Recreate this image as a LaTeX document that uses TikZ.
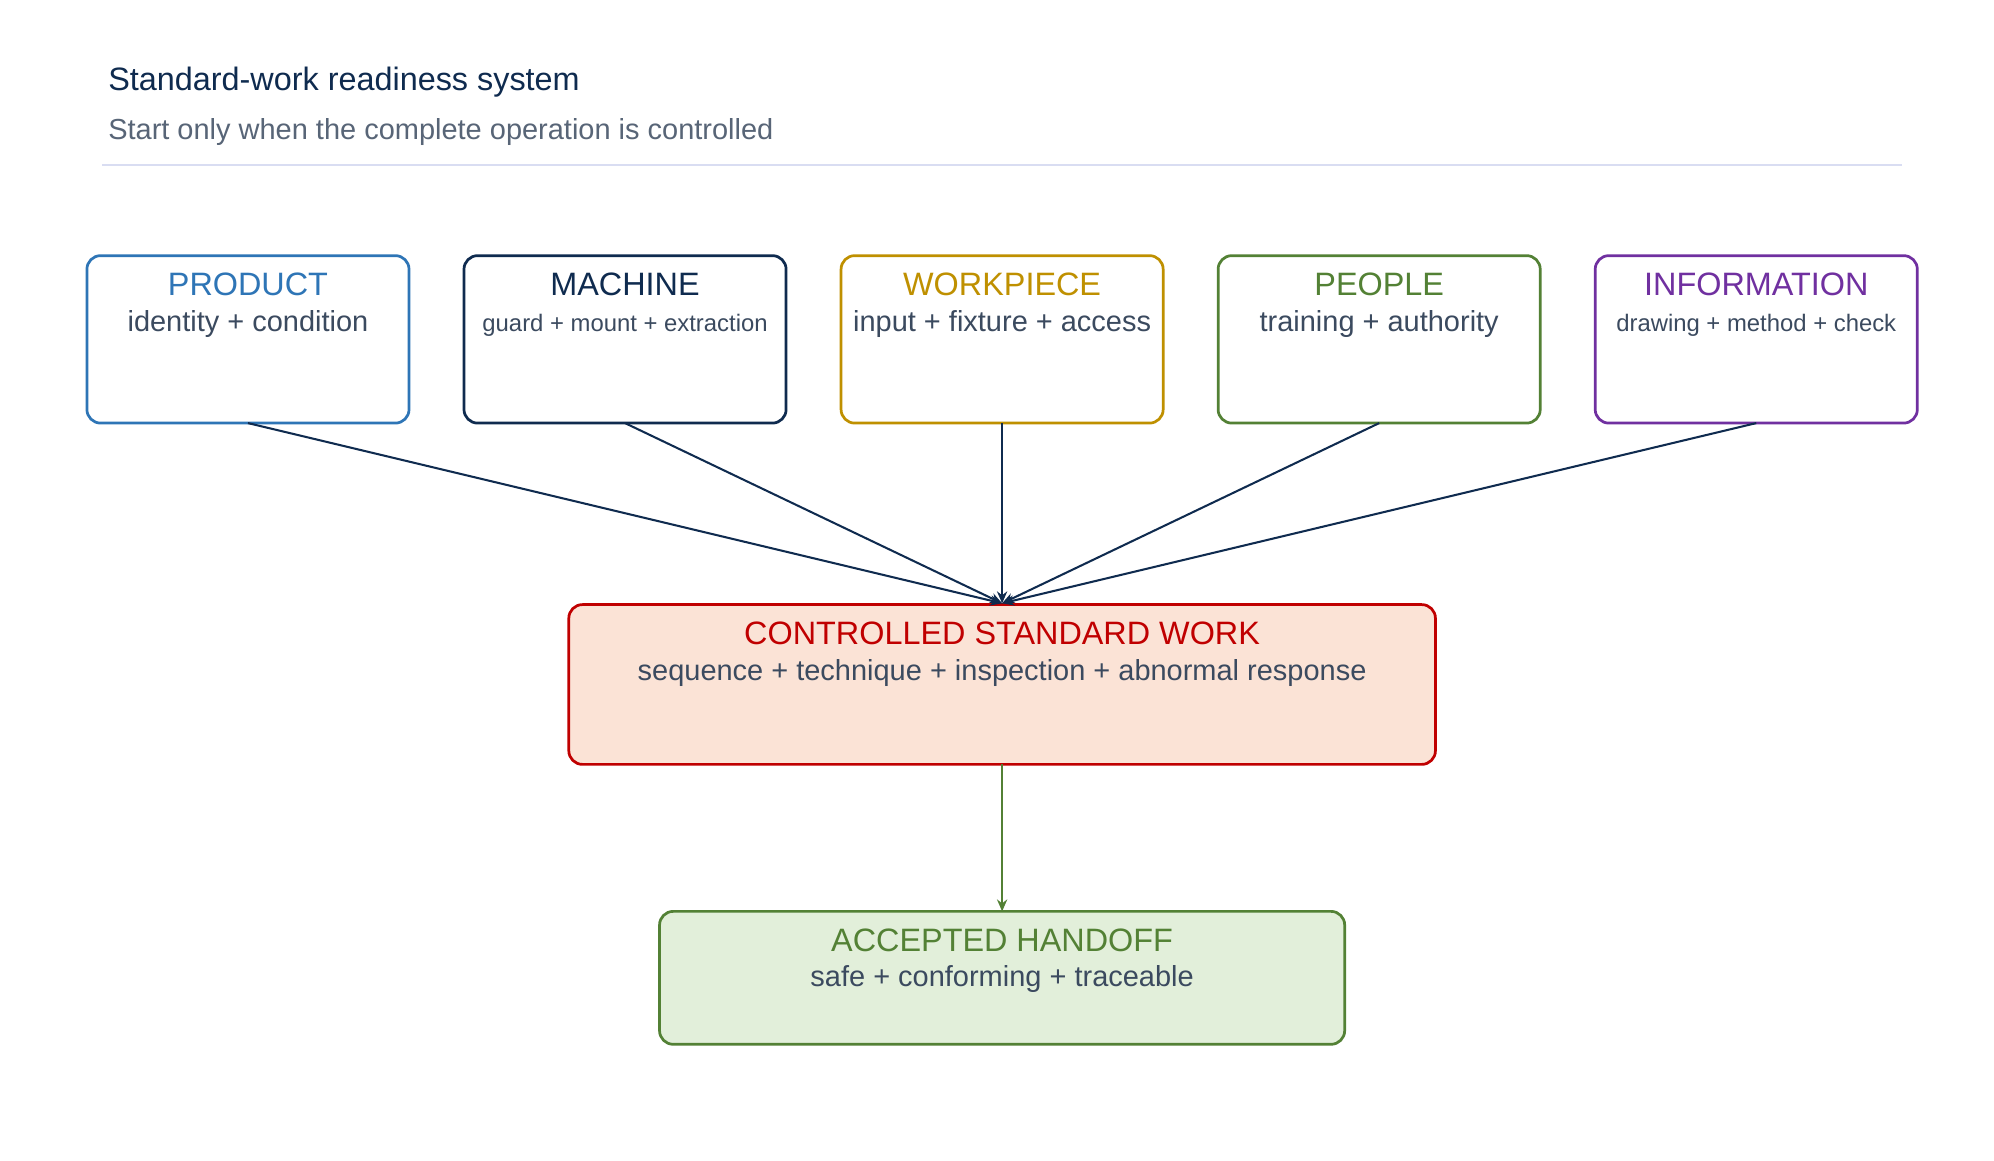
\documentclass[tikz,border=0pt]{standalone}
\usepackage{fontspec}
\setmainfont{Liberation Sans}
\usetikzlibrary{arrows.meta}
\definecolor{cprod}{HTML}{2E75B6}
\definecolor{cmach}{HTML}{0F2B4F}
\definecolor{cwork}{HTML}{BF9000}
\definecolor{cpeop}{HTML}{538135}
\definecolor{cinfo}{HTML}{7030A0}
\definecolor{cred}{HTML}{C00000}
\definecolor{ctxt}{HTML}{3B4A5F}
\definecolor{cfillr}{HTML}{FBE3D6}
\definecolor{cfillg}{HTML}{E2EFDA}
\definecolor{crule}{HTML}{D9DDF2}
\begin{document}
\begin{tikzpicture}[x=0.75pt,y=-0.75pt,
  box/.style={draw,line width=1.6pt,rounded corners=8pt,fill=white},
  ttl/.style={font=\fontsize{19}{22}\selectfont},
  sub/.style={font=\fontsize{17}{20}\selectfont,text=ctxt},
  subs/.style={font=\fontsize{14}{17}\selectfont,text=ctxt},
  conn/.style={draw=cmach,line width=1.2pt,-{Stealth[length=7pt,width=6pt]}}]
\useasboundingbox[fill=white] (0,0) rectangle (1560,908);
\node[anchor=base west,font=\fontsize{19}{22}\selectfont,text=cmach] (title) at (80,71) {Standard-work readiness system};
\node[anchor=base west,font=\fontsize{17}{20}\selectfont,text=ctxt!85] (subtitle) at (80,109) {Start only when the complete operation is controlled};
\draw[crule,line width=1.2pt] (80,129) coordinate (r1) -- (1488,129) coordinate (r2);
% top boxes
\foreach \n/\x/\c/\t/\s/\st in {prod/68/cprod/PRODUCT/identity + condition/sub,
  mach/363/cmach/MACHINE/guard + mount + extraction/subs,
  work/658/cwork/WORKPIECE/input + fixture + access/sub,
  peop/953/cpeop/PEOPLE/training + authority/sub,
  info/1248/cinfo/INFORMATION/drawing + method + check/subs}{
  \draw[box,draw=\c] (\x,200) rectangle ++(252,131);
  \coordinate (\n) at ({\x+126},331);
  \node[ttl,text=\c,anchor=base] (\n t) at ({\x+126},231) {\t};
  \node[\st,anchor=base] (\n s) at ({\x+126},259) {\s};
}
% controlled
\draw[box,draw=cred,fill=cfillr] (445,473) rectangle (1123,598);
\coordinate (ctop) at (784,472);
\coordinate (cbot) at (784,598);
\node[ttl,text=cred,anchor=base] (ct) at (784,504) {CONTROLLED STANDARD WORK};
\node[sub,anchor=base] (cs) at (784,532) {sequence + technique + inspection + abnormal response};
% accepted
\draw[box,draw=cpeop,fill=cfillg] (516,713) rectangle (1052,817);
\coordinate (atop) at (784,713);
\node[ttl,text=cpeop,anchor=base] (at) at (784,744) {ACCEPTED HANDOFF};
\node[sub,anchor=base] (as) at (784,772) {safe + conforming + traceable};
\foreach \n in {prod,mach,work,peop,info} \draw[conn] (\n) -- (ctop);
\draw[conn,draw=cpeop] (cbot) -- (atop);
\end{tikzpicture}
\end{document}
